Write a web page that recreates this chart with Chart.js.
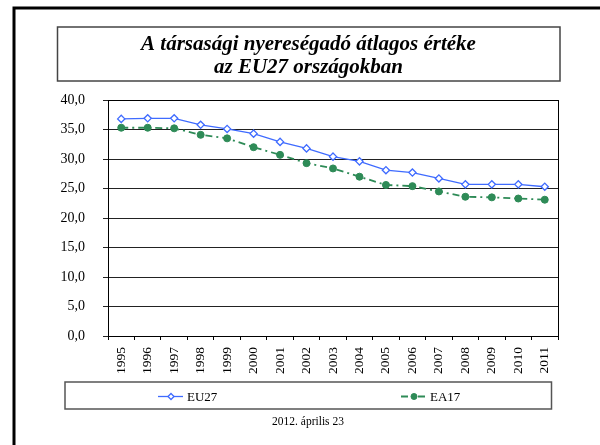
<!DOCTYPE html>
<html>
<head>
<meta charset="utf-8">
<script src="https://cdn.jsdelivr.net/npm/chart.js@4/dist/chart.umd.min.js"></script>
<style>
  html, body { margin: 0; padding: 0; background: #fff; }
  #wrap { width: 600px; height: 445px; position: relative; }
</style>
</head>
<body>
<div id="wrap"><canvas id="myChart" width="600" height="445"></canvas></div>
<script>
// adatok
const years = ['1995', '1996', '1997', '1998', '1999', '2000', '2001', '2002', '2003', '2004', '2005', '2006', '2007', '2008', '2009', '2010', '2011']
const eu27 = [36.8, 36.9, 36.9, 35.8, 35.1, 34.3, 32.9, 31.8, 30.4, 29.6, 28.1, 27.7, 26.7, 25.7, 25.7, 25.7, 25.3]
const ea17 = [35.3, 35.3, 35.2, 34.1, 33.5, 32.0, 30.7, 29.3, 28.4, 27.0, 25.6, 25.4, 24.5, 23.6, 23.5, 23.3, 23.1]
const seriesNames = ['EU27', 'EA17']
const titleLines = ['A társasági nyereségadó átlagos értéke', 'az EU27 országokban']
const footer = '2012. április 23'

const SERIF = '"Liberation Serif", "Times New Roman", serif'

document.addEventListener("DOMContentLoaded", _ => {
  Chart.defaults.font.family = SERIF
  Chart.defaults.color = '#000'

  // keret, címdoboz, jelmagyarázat, dátum
  const slideDeco = {
    id: 'slideDeco',
    beforeDraw(chart) {
      const c = chart.ctx
      c.save()
      c.fillStyle = '#fff'
      c.fillRect(0, 0, chart.width, chart.height)
      c.strokeStyle = '#000'
      c.lineWidth = 3
      c.beginPath()
      c.moveTo(14, chart.height)
      c.lineTo(14, 8)
      c.lineTo(chart.width, 8)
      c.stroke()

      c.strokeStyle = '#444'
      c.lineWidth = 1.5
      c.strokeRect(57.5, 27, 502.5, 54)
      c.fillStyle = '#000'
      c.font = 'italic bold 21px ' + SERIF
      c.textAlign = 'center'
      c.textBaseline = 'alphabetic'
      c.fillText(titleLines[0], 308.5, 50)
      c.fillText(titleLines[1], 308.5, 73)
      c.restore()
    },
    afterDraw(chart) {
      const c = chart.ctx
      const a = chart.chartArea
      c.save()
      c.strokeStyle = '#000'
      c.lineWidth = 1
      c.strokeRect(Math.round(a.left) + 0.5, Math.round(a.top) + 0.5, Math.round(a.right - a.left), Math.round(a.bottom - a.top))

      // jelmagyarázat
      c.strokeStyle = '#555'
      c.lineWidth = 1.5
      c.strokeRect(65, 382, 486.5, 27)
      const items = [{ x: 158, ds: chart.data.datasets[0] }, { x: 401, ds: chart.data.datasets[1] }]
      const y = 396.5
      items.forEach(it => {
        const ds = it.ds
        c.strokeStyle = ds.borderColor
        c.lineWidth = ds.borderWidth
        c.setLineDash(ds.borderDash || [])
        c.beginPath()
        c.moveTo(it.x, y)
        c.lineTo(it.x + 25, y)
        c.stroke()
        c.setLineDash([])
        const mx = it.x + 13
        const r = 3
        c.beginPath()
        if (ds.pointStyle === 'rectRot') {
          c.moveTo(mx, y - r); c.lineTo(mx + r, y); c.lineTo(mx, y + r); c.lineTo(mx - r, y); c.closePath()
        } else {
          c.arc(mx, y, r, 0, Math.PI * 2)
        }
        c.fillStyle = ds.pointBackgroundColor
        c.fill()
        c.lineWidth = ds.pointBorderWidth
        c.strokeStyle = ds.pointBorderColor
        c.stroke()
        c.fillStyle = '#000'
        c.font = '13px ' + SERIF
        c.textAlign = 'left'
        c.textBaseline = 'middle'
        c.fillText(ds.label, it.x + 29, y + 1)
      })

      c.font = '11.5px ' + SERIF
      c.textAlign = 'center'
      c.textBaseline = 'middle'
      c.fillText(footer, 308, 422)
      c.restore()
    }
  }

  const ctx = document.getElementById('myChart')
  new Chart(ctx, {
    type: 'line',
    data: {
      labels: years,
      datasets: [{
        label: seriesNames[0],
        data: eu27,
        borderColor: '#3f6bff',
        borderWidth: 1.3,
        pointStyle: 'rectRot',
        pointRadius: 3.6,
        pointBackgroundColor: '#fff',
        pointBorderColor: '#3f6bff',
        pointBorderWidth: 1.3,
        tension: 0
      }, {
        label: seriesNames[1],
        data: ea17,
        borderColor: '#2e8b57',
        borderWidth: 1.8,
        borderDash: [7, 4, 2, 4],
        pointStyle: 'circle',
        pointRadius: 3.5,
        pointBackgroundColor: '#2e8b57',
        pointBorderColor: '#2e8b57',
        pointBorderWidth: 1,
        tension: 0
      }]
    },
    options: {
      responsive: false,
      animation: false,
      layout: { padding: { left: 50, top: 100, right: 42, bottom: 0 } },
      plugins: {
        legend: { display: false },
        title: { display: false },
        tooltip: { enabled: false }
      },
      scales: {
        x: {
          offset: true,
          grid: { offset: true, drawOnChartArea: false, color: '#000', tickLength: 4 },
          border: { color: '#000' },
          ticks: { minRotation: 90, maxRotation: 90, padding: 7, font: { size: 13.5 } },
          afterFit: s => { s.height = 109 }
        },
        y: {
          min: 0,
          max: 40,
          grid: { color: '#222', tickLength: 5 },
          border: { color: '#000' },
          ticks: {
            stepSize: 5,
            padding: 18,
            font: { size: 14 },
            callback: v => v.toFixed(1).replace('.', ',')
          },
          afterFit: s => { s.width = 58 }
        }
      }
    },
    plugins: [slideDeco]
  })
})
</script>
</body>
</html>
